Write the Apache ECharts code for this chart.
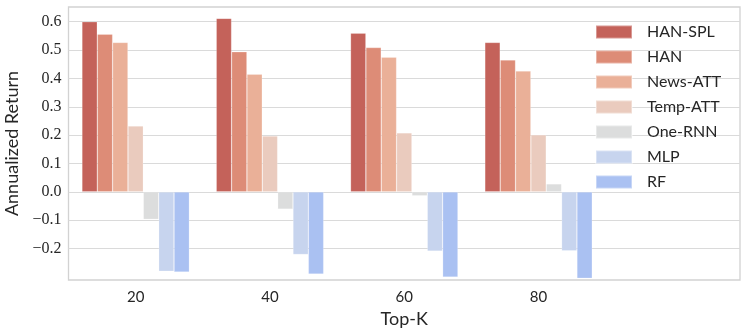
<!DOCTYPE html>
<html>
<head>
<meta charset="utf-8">
<script src="https://cdn.jsdelivr.net/npm/echarts@6/dist/echarts.min.js"></script>
<style>html,body{margin:0;padding:0;background:#fff}#c{width:747px;height:332px}</style>
</head>
<body>
<div id="c"></div>
<script>
const categories = ['20', '40', '60', '80'];
const seriesNames = ['HAN-SPL', 'HAN', 'News-ATT', 'Temp-ATT', 'One-RNN', 'MLP', 'RF'];
const hanSpl  = [0.600, 0.612, 0.560, 0.527];
const han     = [0.556, 0.494, 0.509, 0.465];
const newsAtt = [0.527, 0.415, 0.475, 0.426];
const tempAtt = [0.232, 0.197, 0.208, 0.201];
const oneRnn  = [-0.097, -0.061, -0.014, 0.028];
const mlp     = [-0.280, -0.221, -0.209, -0.208];
const rf      = [-0.283, -0.290, -0.301, -0.305];
const yTicks  = [-0.2, -0.1, 0.0, 0.1, 0.2, 0.3, 0.4, 0.5, 0.6];
const colors  = ['#c4625a', '#dd8c77', '#eab098', '#eacbbe', '#dcdddd', '#c7d4ee', '#aac1f2'];

const values = [hanSpl, han, newsAtt, tempAtt, oneRnn, mlp, rf];
const sans = 'Lato';
const chart = echarts.init(document.getElementById('c'), null, {renderer: 'canvas'});
chart.setOption({
  animation: false,
  color: colors,
  grid: {left: 68.5, right: 7, top: 7, bottom: 52, show: true, outerBoundsMode: 'none', containLabel: false,
         borderColor: '#d2d2d2', borderWidth: 1.3, backgroundColor: 'transparent'},
  legend: {
    orient: 'vertical', left: 590, top: 19,
    itemWidth: 36, itemHeight: 13, itemGap: 9, icon: 'rect',
    textStyle: {fontFamily: sans, fontSize: 16, color: '#262626', padding: [0, 0, 0, 10]},
    data: seriesNames
  },
  xAxis: {
    type: 'category',
    data: categories.concat(['']),
    boundaryGap: true,
    axisLine: {show: false},
    axisTick: {show: false},
    axisLabel: {fontFamily: sans, fontSize: 15, color: '#262626', margin: 10},
    name: 'Top-K', nameLocation: 'middle', nameGap: 25,
    nameTextStyle: {fontFamily: sans, fontSize: 18, color: '#262626'}
  },
  yAxis: {
    type: 'value', min: -0.311, max: 0.652,
    axisLine: {show: false},
    axisTick: {show: false, customValues: yTicks},
    axisLabel: {
      customValues: yTicks,
      fontFamily: 'Liberation Serif', fontSize: 16, color: '#262626', margin: 7,
      formatter: v => (v < 0 ? '\u2212' : '') + Math.abs(v).toFixed(1)
    },
    splitLine: {show: true, lineStyle: {color: '#dadada', width: 1.2}},
    name: 'Annualized Return', nameLocation: 'middle', nameGap: 44,
    nameTextStyle: {fontFamily: sans, fontSize: 18, color: '#262626'}
  },
  series: seriesNames.map((n, i) => ({
    name: n, type: 'bar', data: values[i],
    barGap: '0%', barCategoryGap: '20%',
    itemStyle: {color: colors[i], borderColor: 'rgba(255,255,255,0.35)', borderWidth: 0.6}
  }))
});
</script>
</body>
</html>
